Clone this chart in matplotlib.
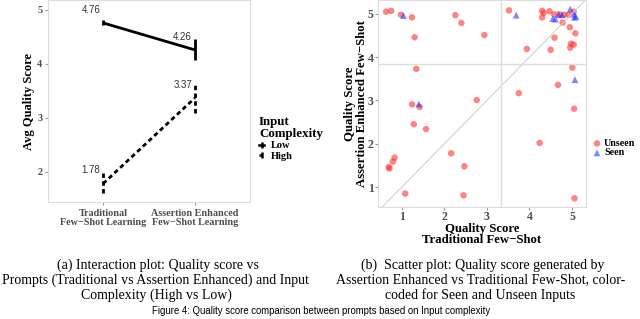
import matplotlib.pyplot as plt
import matplotlib.lines as mlines

# ---- panel (a): interaction plot ----
prompts = ['Traditional\nFew\u2212Shot Learning', 'Assertion Enhanced\nFew\u2212Shot Learning']
low_mean = [4.76, 4.26]
low_lo = [4.72, 4.07]
low_hi = [4.81, 4.46]
high_mean = [1.78, 3.37]
high_lo = [1.61, 3.09]
high_hi = [1.98, 3.61]

# ---- panel (b): scatter ----
unseen_x = [0.63, 0.75, 0.98, 1.24, 1.30, 1.34, 1.24, 1.42, 1.28, 1.57, 0.83, 0.79, 0.69, 0.71,
            1.08, 2.26, 2.40, 2.94, 2.76, 2.16, 2.47, 2.45, 3.52, 4.30, 4.33, 4.30, 4.47, 4.58,
            4.70, 4.82, 4.92, 5.04, 4.78, 4.95, 5.08, 4.59, 4.98, 5.04, 4.96, 4.50, 3.94, 5.01,
            4.67, 3.75, 5.05, 4.24, 5.06]
unseen_y = [5.05, 5.07, 4.98, 4.92, 4.46, 3.73, 2.91, 2.85, 2.45, 2.34, 1.68, 1.59, 1.46, 1.43,
            0.85, 4.97, 4.79, 4.51, 3.01, 1.78, 1.48, 0.81, 5.08, 5.07, 5.02, 4.92, 5.06, 4.99,
            4.99, 4.98, 4.98, 5.05, 4.80, 4.69, 4.55, 4.45, 4.31, 4.29, 4.22, 4.17, 4.19, 3.76,
            3.36, 3.17, 2.81, 2.02, 0.74]
seen_x = [1.04, 1.40, 3.69, 4.96, 4.55, 4.61, 4.69, 4.77, 5.05, 5.09, 5.06, 5.07]
seen_y = [4.96, 2.92, 4.97, 5.11, 4.89, 4.88, 4.98, 4.98, 4.99, 4.94, 4.92, 3.48]
mean_trad = 3.32
mean_assert = 3.85

serif = 'Liberation Serif'
grey = '#4d4d4d'

fig = plt.figure(figsize=(6.4, 3.19), dpi=100)

# panel (a)
ax1 = fig.add_axes([48/640, 1 - 202/319, 202/640, 202/319])
pos = [1, 2]
ax1.plot(pos, low_mean, color='black', lw=2, solid_capstyle='butt')
ax1.plot(pos, high_mean, color='black', lw=2, ls=(0, (1.6, 1.2)))
ax1.vlines(pos, low_lo, low_hi, color='black', lw=2)
ax1.vlines(pos, high_lo, high_hi, color='black', lw=2, linestyles=[(0, (1.6, 1.2))])
for xs, ys in [(pos, low_mean), (pos, high_mean)]:
    for x, y in zip(xs, ys):
        ax1.annotate(f'{y:.2f}', (x, y), xytext=(-2, 9.5), textcoords='offset points',
                     ha='right', va='center', fontsize=7, color='#333333', family='Liberation Sans')
ax1.set_xlim(0.4, 2.6)
ax1.set_ylim(1.44, 5.185)
ax1.set_xticks(pos, prompts)
ax1.set_yticks([2, 3, 4, 5])
ax1.tick_params(length=2, color='#999999', labelsize=7.3, labelcolor=grey, pad=2)
ax1.tick_params(axis='x', pad=3)
for lab in ax1.get_xticklabels() + ax1.get_yticklabels():
    lab.set_family(serif)
    lab.set_fontweight('bold')
for lab in ax1.get_xticklabels():
    lab.set_linespacing(1.05)
ax1.set_ylabel('Avg Quality Score', family=serif, fontweight='bold', fontsize=9, labelpad=2)
for s in ax1.spines.values():
    s.set_color('#dddddd')

h_low = mlines.Line2D([], [], color='black', lw=1.8, marker='|', markersize=5, markeredgewidth=1.8)
h_high = mlines.Line2D([], [], color='black', lw=1.8, ls=(0, (1.0, 1.0)), marker='|', markersize=5,
                       markeredgewidth=1.8)
leg1 = fig.legend([h_low, h_high], ['Low', 'High'], title='Input\nComplexity', loc='upper left',
                  bbox_to_anchor=(259/640, 1 - 116/319), frameon=False, handlelength=0.5,
                  handletextpad=0.6, labelspacing=0.1, borderaxespad=0, borderpad=0,
                  prop={'family': serif, 'weight': 'bold', 'size': 7.5},
                  title_fontproperties={'family': serif, 'weight': 'bold', 'size': 9.3})
leg1._legend_box.align = 'left'
leg1.get_title().set_linespacing(1.0)

# panel (b)
ax2 = fig.add_axes([378/640, 1 - 207/319, 208/640, 207/319])
ax2.axline((1, 1), slope=1, color='#cccccc', lw=0.7)
ax2.axvline(mean_trad, color='#dddddd', lw=1)
ax2.axhline(mean_assert, color='#dddddd', lw=1)
ax2.scatter(unseen_x, unseen_y, s=22, color='#ff3333', alpha=0.6, edgecolors='none', label='Unseen')
ax2.scatter(seen_x, seen_y, s=24, marker='^', color='#3333ff', alpha=0.6, edgecolors='none',
            label='Seen')
ax2.set_xlim(0.44, 5.33)
ax2.set_ylim(0.54, 5.32)
ax2.set_xticks([1, 2, 3, 4, 5])
ax2.set_yticks([1, 2, 3, 4, 5])
ax2.tick_params(length=2, color='#999999', labelsize=8.5, labelcolor=grey, pad=1)
for lab in ax2.get_xticklabels() + ax2.get_yticklabels():
    lab.set_family(serif)
    lab.set_fontweight('bold')
ax2.set_xlabel('Quality Score\nTraditional Few\u2212Shot', family=serif, fontweight='bold',
               fontsize=9.2, labelpad=0, linespacing=0.85)
ax2.set_ylabel('Quality Score\nAssertion Enhanced Few\u2212Shot', family=serif, fontweight='bold',
               fontsize=9.2, labelpad=0, linespacing=0.95)
for s in ax2.spines.values():
    s.set_color('#dddddd')
ax2.legend(loc='upper left', bbox_to_anchor=(594/640, 1 - 139/319), bbox_transform=fig.transFigure,
           frameon=False, handlelength=0.6, handletextpad=0.4, labelspacing=0.05, borderaxespad=0,
           borderpad=0, prop={'family': serif, 'weight': 'bold', 'size': 7.2})

# captions
cap = {'family': serif, 'fontsize': 10, 'ha': 'center', 'va': 'center'}
fig.text(158/640, 1 - 265/319, '(a) Interaction plot: Quality score vs', **cap)
fig.text(155/640, 1 - 280/319, 'Prompts (Traditional vs Assertion Enhanced) and Input', **cap)
fig.text(156/640, 1 - 295/319, 'Complexity (High vs Low)', **cap)
fig.text(483/640, 1 - 265/319, '(b)  Scatter plot: Quality score generated by', **cap)
fig.text(481/640, 1 - 280/319, 'Assertion Enhanced vs Traditional Few-Shot, color-', **cap)
fig.text(480/640, 1 - 295/319, 'coded for Seen and Unseen Inputs', **cap)
fig.text(321/640, 1 - 311/319, 'Figure 4: Quality score comparison between prompts based on Input complexity',
         family='Liberation Sans', fontsize=6.9, ha='center', va='center')

fig.savefig('out.png', dpi=100)
